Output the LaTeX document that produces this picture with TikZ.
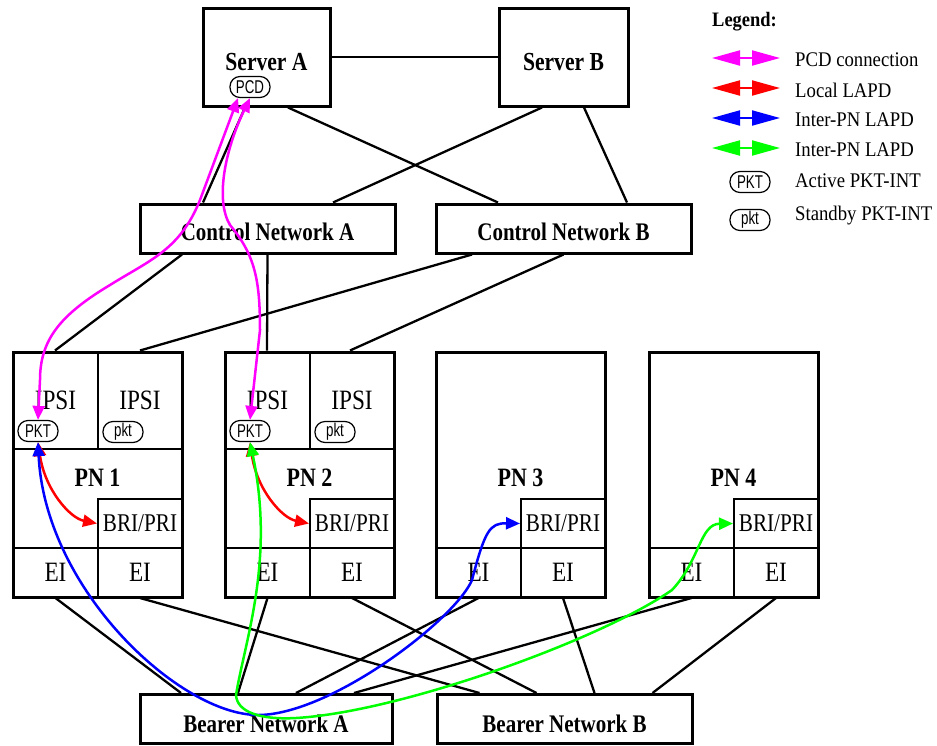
\documentclass[tikz,border=0pt]{standalone}
\usepackage{fontspec}
\setmainfont[FakeStretch=0.83]{Liberation Serif}
\newfontfamily\keyfont[FakeStretch=0.9]{Liberation Serif}
\newfontfamily\tagfont[FakeStretch=0.72]{Liberation Sans}
\usepackage{tikz}
\usetikzlibrary{arrows.meta, calc}
\definecolor{pcdmag}{HTML}{FF00FF}
\definecolor{lapdred}{HTML}{FF0000}
\definecolor{lapdblue}{HTML}{0000FF}
\definecolor{lapdgreen}{HTML}{00FF00}

\begin{document}
\begin{tikzpicture}[x=1pt, y=-1pt,
    box/.style={draw, line width=3pt, inner sep=0pt, font=\bfseries\fontsize{26}{28}\selectfont},
    net/.style={box, minimum height=49pt, font=\bfseries\fontsize{25.3}{27}\selectfont},
    cell/.style={draw, line width=2pt, inner sep=0pt, font=\fontsize{28}{30}\selectfont},
    tag/.style={draw, line width=1.2pt, rounded corners=10pt, minimum width=40pt, minimum height=21pt,
                inner sep=0pt, font=\tagfont\fontsize{18.5}{18.5}\selectfont},
    wire/.style={line width=2.3pt},
    link/.style={line width=2.5pt, >={Triangle[length=14pt,width=12pt]}, <->},
    key/.style={line width=2pt, >={Triangle[length=28pt,width=15pt]}, <->},
    keytxt/.style={anchor=west, inner sep=0pt, font=\keyfont\fontsize{20.8}{23}\selectfont}
]
    \useasboundingbox (0,0) rectangle (937,745);

    % Servers
    \node[box, minimum width=127pt, minimum height=98pt, text height=27pt, text depth=0pt] (srvA) at (266.5,57) {Server A};
    \node[box, minimum width=129pt, minimum height=98pt, text height=27pt, text depth=0pt] (srvB) at (563.5,57) {Server B};
    \node[tag] (pcd) at (250,87) {PCD};

    % Control and bearer networks
    \node[net, minimum width=255pt, text height=23pt, text depth=0pt] (cnA) at (267.5,228.5) {Control Network A};
    \node[net, minimum width=255pt, text height=23pt, text depth=0pt] (cnB) at (563.5,228.5) {Control Network B};
    \node[net, minimum width=252pt, text height=27pt, text depth=0pt] (bnA) at (266,719) {Bearer Network A};
    \node[net, minimum width=255pt, text height=27pt, text depth=0pt] (bnB) at (564.5,719) {Bearer Network B};

    % IPSI boards
    \foreach \k/\x in {1/13, 2/225} {
        \node[cell, minimum width=85pt, minimum height=97pt] (ipsiL\k) at (\x+42.5,400.5) {IPSI};
        \node[cell, minimum width=84pt, minimum height=97pt] (ipsiR\k) at (\x+127,400.5) {IPSI};
        \node[tag] (pktA\k) at (\x+25,431) {PKT};
        \node[tag] (pktS\k) at (\x+110,432) {pkt};
    }

    % Port networks
    \foreach \k/\x in {1/13, 2/225, 3/436, 4/649} {
        \node[cell, minimum width=84pt, minimum height=49pt, font=\fontsize{25.5}{27}\selectfont] (bri\k) at (\x+127,523.5) {BRI/PRI};
        \node[cell, minimum width=85pt, minimum height=49pt] (eiL\k) at (\x+42.5,572.5) {EI};
        \node[cell, minimum width=84pt, minimum height=49pt] (eiR\k) at (\x+127,572.5) {EI};
        \node[box, minimum width=169pt, minimum height=245pt] (pn\k) at (\x+84.5,474.5) {};
        \node[font=\bfseries\fontsize{26.5}{28}\selectfont] (pnlbl\k) at (\x+84.5,478) {PN \k};
    }

    % Control side wiring
    \draw[wire] (srvA) -- (srvB);
    \draw[wire] ([xshift=-21.5pt]srvA.south) -- ([xshift=-64.5pt]cnA.north);
    \draw[wire] ([xshift=21.5pt]srvA.south) -- ([xshift=-65.5pt]cnB.north);
    \draw[wire] ([xshift=-21.5pt]srvB.south) -- ([xshift=65.5pt]cnA.north);
    \draw[wire] ([xshift=20.5pt]srvB.south) -- ([xshift=63.5pt]cnB.north);
    \draw[wire] ([xshift=-85.5pt]cnA.south) -- ([xshift=-42.5pt]pn1.north);
    \draw[wire] (cnA.south) -- ([xshift=-42.5pt]pn2.north);
    \draw[wire] ([xshift=-91.5pt]cnB.south) -- ([xshift=42.5pt]pn1.north);
    \draw[wire] (cnB.south) -- ([xshift=40.5pt]pn2.north);

    % Bearer side wiring
    \foreach \k/\o in {1/-85, 2/-28, 3/30, 4/88} {
        \draw[wire] (eiL\k.south) -- ([xshift=\o pt]bnA.north);
        \draw[wire] (eiR\k.south) -- ([xshift=\o pt]bnB.north);
    }

    % PCD connections
    \draw[link, pcdmag] ([xshift=-12pt]pcd.south) -- (200,200)
        .. controls (180,250) and (150,260) .. (110,285)
        .. controls (60,315) and (40,340) .. (40,380) -- (pktA1.north);
    \draw[link, pcdmag] (pcd.south) .. controls (225,150) and (215,200) .. (230,225)
        .. controls (255,255) and (260,280) .. (260,330) -- (pktA2.north);

    % Local LAPD
    \draw[link, lapdred] (pktA1.south) .. controls (45,490) and (70,518) .. (bri1.west);
    \draw[link, lapdred] (pktA2.south) .. controls (257,490) and (282,518) .. (bri2.west);

    % Inter-PN LAPD
    \draw[link, lapdblue] (pktA1.south) .. controls (45,590) and (180,715) .. (258,715)
        .. controls (330,715) and (455,620) .. (472,580)
        .. controls (485,530) and (490,523) .. (bri3.west);
    \draw[link, lapdgreen] (pktA2.south) .. controls (275,560) and (245,640) .. (236,695)
        .. controls (237,712) and (260,720) .. (296,718)
        .. controls (400,712) and (600,640) .. (672,590)
        .. controls (700,560) and (700,524) .. (bri4.west);

    % Legend
    \node[anchor=west, inner sep=0pt, font=\keyfont\bfseries\fontsize{20.5}{22}\selectfont] (legtitle) at (712,22) {Legend:};
    \foreach \y/\c/\t [count=\i] in {58/pcdmag/PCD connection, 88/lapdred/Local LAPD,
                                     118/lapdblue/Inter-PN LAPD, 148/lapdgreen/Inter-PN LAPD} {
        \coordinate (keyL\i) at (712,\y);
        \coordinate (keyR\i) at (780,\y);
        \draw[key, \c] (keyL\i) -- (keyR\i);
        \node[keytxt] (keytxt\i) at (795,\y+2) {\t};
    }
    \node[tag] (keyact) at (750,182) {PKT};
    \node[keytxt] (keytxt5) at (795,181) {Active PKT-INT};
    \node[tag] (keystby) at (750,220) {pkt};
    \node[keytxt] (keytxt6) at (795,216) {Standby PKT-INT};

\end{tikzpicture}
\end{document}
